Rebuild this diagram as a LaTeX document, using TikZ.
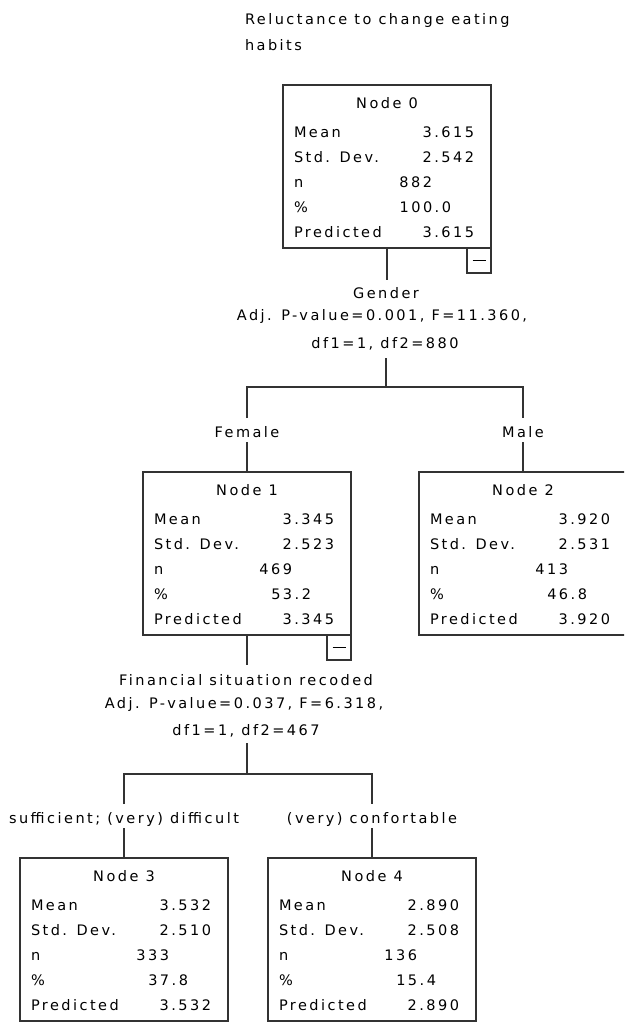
\documentclass[tikz,border=0pt]{standalone}
\usepackage{fontspec}
\setmainfont[LetterSpace=17]{DejaVu Sans}

\newcommand{\statnode}[8]{%
	\node[statbox] (#1) at (#2) {};
	\node[anchor=base] (#1-head) at ([shift={(104,23)}]#1.north west) {#3};
	\node[lab] (#1-mean) at ([shift={(11,52)}]#1.north west) {Mean};
	\node[lab] (#1-sd) at ([shift={(11,77)}]#1.north west) {Std. Dev.};
	\node[lab] (#1-n) at ([shift={(11,102)}]#1.north west) {n};
	\node[lab] (#1-pct) at ([shift={(11,127)}]#1.north west) {\%};
	\node[lab] (#1-pred) at ([shift={(11,152)}]#1.north west) {Predicted};
	\node[val] (#1-meanv) at ([shift={(191,52)}]#1.north west) {#4};
	\node[val] (#1-sdv) at ([shift={(191,77)}]#1.north west) {#5};
	\node[val] (#1-nv) at ([shift={(149,102)}]#1.north west) {#6};
	\node[val] (#1-pctv) at ([shift={(168,127)}]#1.north west) {#7};
	\node[val] (#1-predv) at ([shift={(191,152)}]#1.north west) {#8};
}

\begin{document}
\begin{tikzpicture}[x=1pt,y=-1pt,
	every node/.style={font=\fontsize{14.5pt}{17pt}\selectfont, inner sep=0pt, outer sep=0pt},
	statbox/.style={draw=black!80, line width=1.6pt, anchor=north west, minimum width=208pt, minimum height=163pt},
	lab/.style={anchor=base west},
	val/.style={anchor=base east},
	minus/.style={draw=black!80, line width=1.6pt, anchor=north east, minimum width=24pt, minimum height=25pt},
	branch/.style={text height=14pt, text depth=0pt, minimum height=24pt},
	edge/.style={draw=black!80, line width=1.6pt}]

	\useasboundingbox (0,0) rectangle (624,1023);
	\clip (0,0) rectangle (624,1023);

	\node[anchor=base west] (title1) at (245,24) {Reluctance to change eating};
	\node[anchor=base west] (title2) at (245,50) {habits};

	\statnode{n0}{283,85}{Node 0}{3.615}{2.542}{882}{100.0}{3.615}
	\node[minus] (n0-m) at (n0.south east) {\rule{13pt}{1.6pt}};

	\node[anchor=base] (n0-var) at (386,298) {Gender};
	\node[anchor=base] (n0-stat) at (382,320) {Adj. P-value=0.001, F=11.360,};
	\node[anchor=base] (n0-df) at (385,348) {df1=1, df2=880};
	\coordinate (n0-j) at (386,387);
	\draw[edge] (n0.south) -- ++(0,32);
	\draw[edge] (n0-j) -- ++(0,-29);

	\node[branch] (n1-b) at (247,430) {Female};
	\node[branch] (n2-b) at (523,430) {Male};
	\draw[edge] (n1-b.north) |- (n0-j) -| (n2-b.north);

	\statnode{n1}{143,472}{Node 1}{3.345}{2.523}{469}{53.2}{3.345}
	\node[minus] (n1-m) at (n1.south east) {\rule{13pt}{1.6pt}};
	\statnode{n2}{419,472}{Node 2}{3.920}{2.531}{413}{46.8}{3.920}
	\draw[edge] (n1-b.south) -- (n1.north);
	\draw[edge] (n2-b.south) -- (n2.north);

	\node[anchor=base] (n1-var) at (246,685) {Financial situation recoded};
	\node[anchor=base] (n1-stat) at (244,708) {Adj. P-value=0.037, F=6.318,};
	\node[anchor=base] (n1-df) at (246,735) {df1=1, df2=467};
	\coordinate (n1-j) at (247,774);
	\draw[edge] (n1.south) -- ++(0,30);
	\draw[edge] (n1-j) -- ++(0,-31);

	\node[branch] (n3-b) at (124,816) {sufficient; (very) difficult};
	\node[branch] (n4-b) at (372,816) {(very) confortable};
	\draw[edge] (n3-b.north) |- (n1-j) -| (n4-b.north);

	\statnode{n3}{20,858}{Node 3}{3.532}{2.510}{333}{37.8}{3.532}
	\statnode{n4}{268,858}{Node 4}{2.890}{2.508}{136}{15.4}{2.890}
	\draw[edge] (n3-b.south) -- (n3.north);
	\draw[edge] (n4-b.south) -- (n4.north);
\end{tikzpicture}
\end{document}
